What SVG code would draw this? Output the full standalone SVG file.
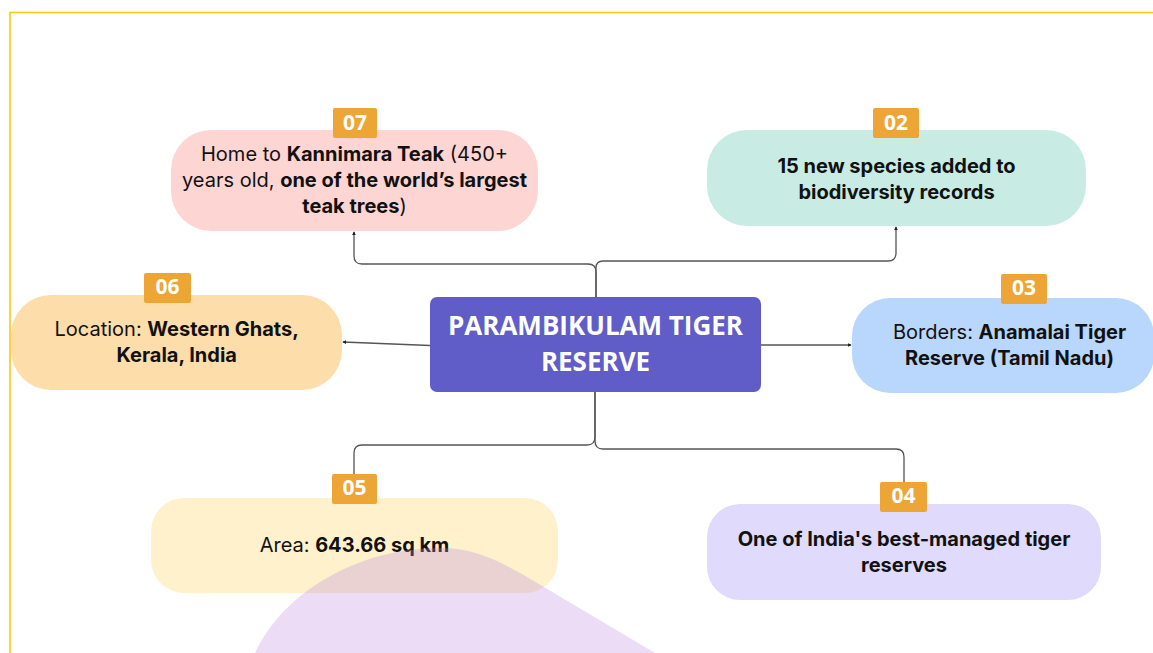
<svg xmlns="http://www.w3.org/2000/svg" width="1153" height="653" viewBox="0 0 1153 653">
<style>
.node{stroke:none}
.txt{font-family:Inter,"Liberation Sans",sans-serif;font-size:20px;fill:#111;text-anchor:middle}
.b{font-weight:700}
.badge{fill:#EDA535}
.bt{font-family:"Open Sans","Liberation Sans",sans-serif;font-weight:700;font-size:21px;fill:#fff;text-anchor:middle}
.conn{fill:none;stroke:#555;stroke-width:1.3}
.ct{font-family:"Open Sans","Liberation Sans",sans-serif;font-weight:700;font-size:26px;fill:#fff;text-anchor:middle}
</style>
<defs>
<marker id="ah" viewBox="0 0 6 6" refX="5" refY="3" markerWidth="4" markerHeight="4" orient="auto" markerUnits="userSpaceOnUse">
<path d="M0,0 L6,3 L0,6 Z" fill="#222"/>
</marker>
</defs>
<rect x="0" y="0" width="1153" height="653" fill="#fff"/>
<path d="M10,653 V12.5 H1153" fill="none" stroke="#FFC60B" stroke-width="1.6"/>

<g id="connectors">
<path class="conn" d="M596,297 V272 Q596,264 588,264 H362 Q354,264 354,256 V232" marker-end="url(#ah)"/>
<path class="conn" d="M596,297 V268 Q596,261 603,261 H888 Q896,261 896,253 V227" marker-end="url(#ah)"/>
<path class="conn" d="M430,345.5 L343,342" marker-end="url(#ah)"/>
<path class="conn" d="M761,345 L851,345" marker-end="url(#ah)"/>
<path class="conn" d="M595,392 V437 Q595,445 587,445 H362 Q354,445 354,453 V474"/>
<path class="conn" d="M595,392 V441 Q595,449 603,449 H896 Q904,449 904,457 V482"/>
</g>

<g id="center">
<rect x="430" y="297" width="331" height="95" rx="7" fill="#605DC8"/>
<text class="ct" x="595.5" y="335">PARAMBIKULAM TIGER</text>
<text class="ct" x="595.5" y="371">RESERVE</text>
</g>

<g id="n07">
<rect class="node" x="171" y="130" width="367" height="101" rx="40" fill="#FDD6D3"/>
<text class="txt" x="354.5" y="161">Home to <tspan class="b">Kannimara Teak</tspan> (450+</text>
<text class="txt" x="354.5" y="187">years old, <tspan class="b">one of the world’s largest</tspan></text>
<text class="txt" x="354.5" y="213"><tspan class="b">teak trees</tspan>)</text>
<rect class="badge" x="333" y="108" width="44" height="30" rx="2"/>
<text class="bt" x="355" y="130">07</text>
</g>

<g id="n02">
<rect class="node" x="707" y="130" width="379" height="96" rx="40" fill="#C8ECE4"/>
<text class="txt b" x="896.5" y="173">15 new species added to</text>
<text class="txt b" x="896.5" y="199">biodiversity records</text>
<rect class="badge" x="873" y="108" width="46" height="30" rx="2"/>
<text class="bt" x="896" y="130">02</text>
</g>

<g id="n06">
<rect class="node" x="11" y="295" width="331" height="95" rx="40" fill="#FDDDAA"/>
<text class="txt" x="176.7" y="336">Location: <tspan class="b">Western Ghats,</tspan></text>
<text class="txt b" x="176.7" y="362">Kerala, India</text>
<rect class="badge" x="144" y="273" width="47" height="30" rx="2"/>
<text class="bt" x="167.5" y="294">06</text>
</g>

<g id="n03">
<rect class="node" x="852" y="298" width="302" height="95" rx="38" fill="#B9D6FC"/>
<text class="txt" x="1009.5" y="339">Borders: <tspan class="b">Anamalai Tiger</tspan></text>
<text class="txt b" x="1009.5" y="365">Reserve (Tamil Nadu)</text>
<rect class="badge" x="1001" y="274" width="46" height="30" rx="2"/>
<text class="bt" x="1024" y="295">03</text>
</g>

<g id="n05">
<rect class="node" x="151" y="498" width="407" height="95" rx="33" fill="#FEF1CC"/>
<text class="txt" x="354.5" y="552">Area: <tspan class="b">643.66 sq km</tspan></text>
<rect class="badge" x="332" y="474" width="45" height="30" rx="2"/>
<text class="bt" x="354.5" y="495">05</text>
</g>

<g id="n04">
<rect class="node" x="707" y="504" width="394" height="96" rx="33" fill="#E0DAFC"/>
<text class="txt b" x="904" y="546">One of India's best-managed tiger</text>
<text class="txt b" x="904" y="572">reserves</text>
<rect class="badge" x="880" y="482" width="47" height="30" rx="2"/>
<text class="bt" x="903.5" y="503">04</text>
</g>

<path id="blob" d="M255,653 C283,592 358,548 440,548 C470,548 492,557 522,574 L655,653 Z" fill="#C08AE1" fill-opacity="0.3"/>
</svg>
